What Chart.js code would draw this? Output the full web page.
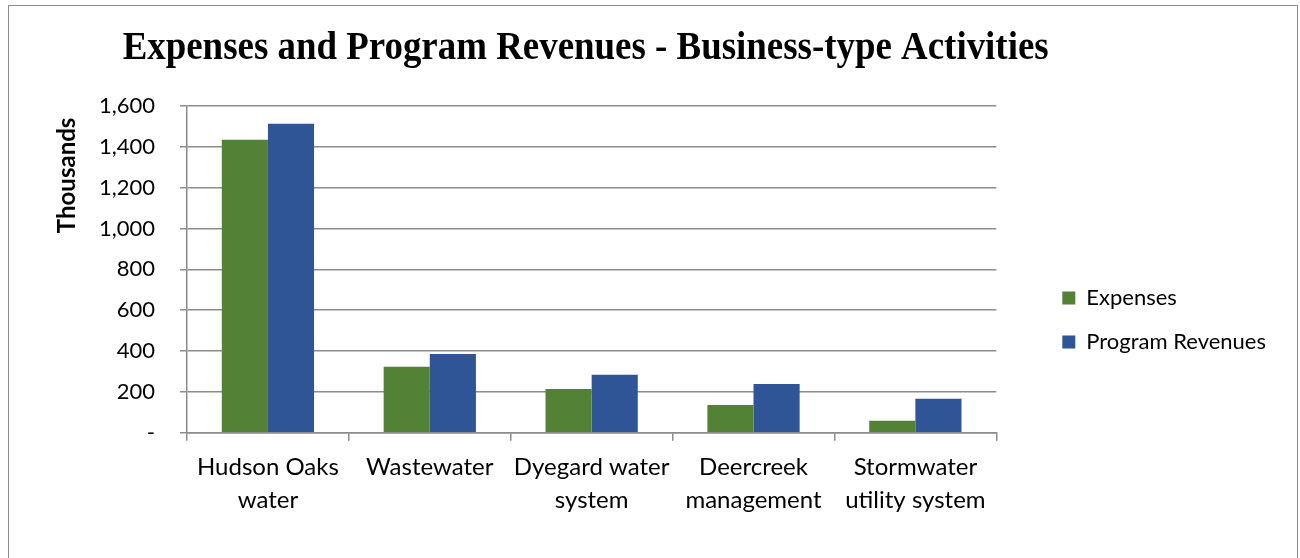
<!DOCTYPE html>
<html>
<head>
<meta charset="utf-8">
<script src="https://cdn.jsdelivr.net/npm/chart.js@4.4.1/dist/chart.umd.min.js"></script>
<style>
  body { margin:0; background:#fff; }
  .wrap { position:relative; width:1300px; height:558px; overflow:hidden; }
  .frame { position:absolute; left:8px; top:5px; width:1290px; height:600px; border:1px solid #8c8c8c; box-sizing:border-box; }
  canvas { position:absolute; left:0; top:0; }
</style>
</head>
<body>
<div class="wrap">
  <div class="frame"></div>
  <canvas id="chart" width="1300" height="558"></canvas>
</div>
<script>
// Data (thousands)
const categories = [['Hudson Oaks', 'water'], 'Wastewater', ['Dyegard water', 'system'], ['Deercreek', 'management'], ['Stormwater', 'utility system']];
const expenses = [1435, 323, 214, 135, 59];
const programRevenues = [1513, 385, 284, 238, 166];
const yTicks = [0, 200, 400, 600, 800, 1000, 1200, 1400, 1600];

const labelFont = "Lato, 'Open Sans', sans-serif";
const legendGap = 44;

// leave blank space between plot and legend, and let the title run wider than the plot
const layoutTweaks = {
    id: 'layoutTweaks',
    afterInit(chart) {
        const lg = chart.legend;
        const fit = lg.fit.bind(lg);
        lg.fit = function() { fit(); this.width += legendGap; };
    },
    afterLayout(chart) {
        chart.legend.left += legendGap;
        const tb = chart.titleBlock;
        const c = (tb.left + tb.right) / 2 - 6;
        tb.left = c - 463;
        tb.right = c + 463;
    }
};

new Chart(document.getElementById('chart'), {
    type: 'bar',
    data: {
        labels: categories,
        datasets: [
            { label: 'Expenses', data: expenses, backgroundColor: '#538135', categoryPercentage: 0.57, barPercentage: 1 },
            { label: 'Program Revenues', data: programRevenues, backgroundColor: '#2F5597', categoryPercentage: 0.57, barPercentage: 1 }
        ]
    },
    plugins: [layoutTweaks],
    options: {
        responsive: false,
        animation: false,
        layout: { padding: { left: 53, right: 24, top: 0, bottom: 31 } },
        plugins: {
            title: {
                display: true, fullSize: false,
                text: 'Expenses and Program Revenues - Business-type Activities',
                color: '#000',
                font: { family: "'Liberation Serif', 'Times New Roman', serif", size: 40, weight: 'bold' },
                padding: { top: 25, bottom: 33 }
            },
            legend: {
                position: 'right',
                title: { display: true, text: ' ', font: { size: 1 }, padding: { top: 112, bottom: 0 } },
                labels: { color: '#000', boxWidth: 13, boxHeight: 13, padding: 22, font: { family: labelFont, size: 22 } }
            },
            tooltip: { enabled: false }
        },
        scales: {
            x: {
                offset: true,
                grid: { offset: true, drawOnChartArea: false, color: '#8c8c8c', tickLength: 8, lineWidth: 1.5 },
                border: { color: '#8c8c8c', width: 1.5 },
                ticks: { color: '#000', maxRotation: 0, padding: 11, font: { family: labelFont, size: 24, lineHeight: 1.34 } }
            },
            y: {
                min: 0, max: 1600,
                afterBuildTicks: axis => { axis.ticks = yTicks.map(v => ({ value: v })); },
                afterFit: s => { s.width = 134; },
                grid: { color: '#8c8c8c', tickLength: 7, lineWidth: 1.5 },
                border: { color: '#8c8c8c', width: 1.5 },
                ticks: {
                    color: '#000', padding: 25, font: { family: labelFont, size: 22 },
                    callback: v => v === 0 ? '-' : v.toLocaleString('en-US')
                },
                title: { display: true, text: 'Thousands  ', align: 'end', color: '#000', padding: { top: 0, bottom: 15 }, font: { family: labelFont, size: 24, weight: 'bold' } }
            }
        }
    }
});
</script>
</body>
</html>
